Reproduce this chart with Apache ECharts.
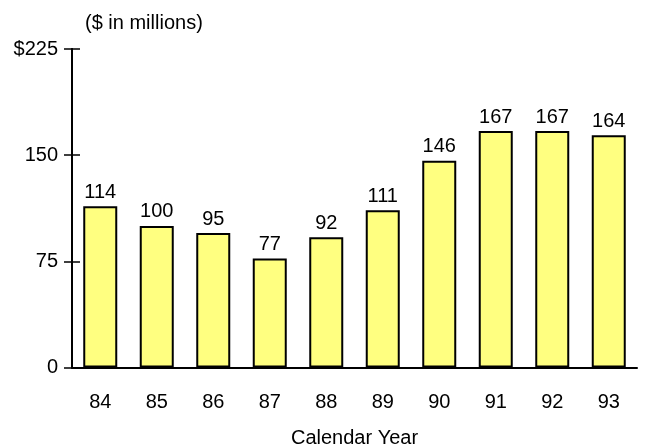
<!DOCTYPE html>
<html>
<head>
<meta charset="utf-8">
<script src="https://cdn.jsdelivr.net/npm/echarts@6/dist/echarts.min.js"></script>
<style>html,body{margin:0;padding:0;background:#fff}#c{width:655px;height:447px}</style>
</head>
<body>
<div id="c"></div>
<script>
var categories = ['84','85','86','87','88','89','90','91','92','93'];
var values = [114, 100, 95, 77, 92, 111, 146, 167, 167, 164];
var yTicks = [0, 75, 150, 225];

var font = '"Liberation Sans", Arial, sans-serif';
var chart = echarts.init(document.getElementById('c'), null, {renderer: 'canvas'});
chart.setOption({
  animation: false,
  backgroundColor: '#fff',
  title: {
    text: '($ in millions)', left: 80, top: 8,
    textStyle: {fontFamily: font, fontSize: 20, fontWeight: 'normal', color: '#000'}
  },
  grid: {left: 72, right: 18, top: 49, bottom: 79.5, containLabel: false, outerBoundsMode: 'none'},
  xAxis: {
    type: 'category', data: categories,
    name: 'Calendar Year', nameLocation: 'middle', nameGap: 61,
    nameTextStyle: {fontFamily: font, fontSize: 20, color: '#000', verticalAlign: 'top'},
    axisLine: {lineStyle: {color: '#000', width: 2}},
    axisTick: {show: false},
    axisLabel: {fontFamily: font, fontSize: 20, color: '#000', margin: 25}
  },
  yAxis: [{
    type: 'value', min: 0, max: 225, interval: 75,
    axisLine: {show: true, lineStyle: {color: '#000', width: 2}},
    axisTick: {show: true, length: 8, lineStyle: {color: '#000', width: 1.5}},
    splitLine: {show: false},
    axisLabel: {fontFamily: font, fontSize: 20, color: '#000', margin: 14,
      formatter: function (v) { return v === yTicks[3] ? '$' + v : String(v); }}
  }, {
    type: 'value', min: 0, max: 225, interval: 75, position: 'left', offset: 0,
    axisLine: {show: true, lineStyle: {color: '#000', width: 2}},
    axisTick: {show: true, inside: true, length: 8, lineStyle: {color: '#000', width: 1.5}},
    splitLine: {show: false},
    axisLabel: {show: false}
  }],
  series: [{
    type: 'bar', data: values, barWidth: 34,
    itemStyle: {color: '#ffff80', borderColor: '#000', borderWidth: 2},
    label: {show: true, position: 'top', distance: 4,
      fontFamily: font, fontSize: 20, color: '#000'}
  }]
});
</script>
</body>
</html>
